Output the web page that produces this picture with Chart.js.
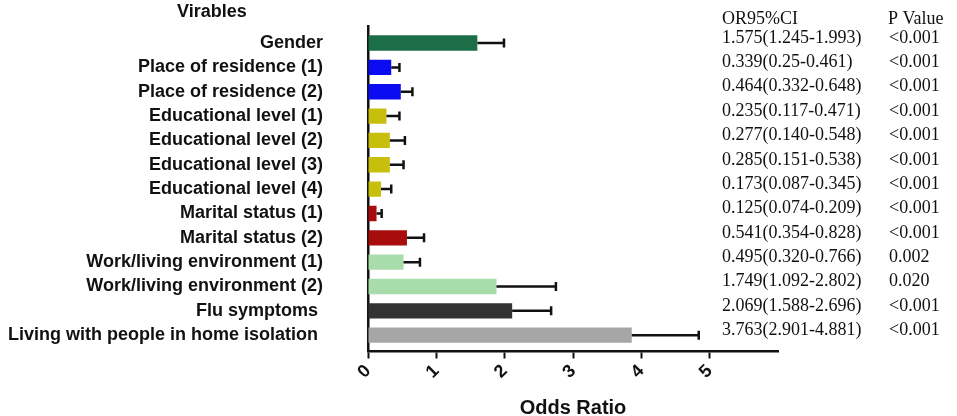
<!DOCTYPE html>
<html>
<head>
<meta charset="utf-8">
<script src="https://cdn.jsdelivr.net/npm/chart.js@4.4.1/dist/chart.umd.min.js"></script>
<style>
  html, body { margin: 0; padding: 0; background: #ffffff; }
  #wrap { width: 957px; height: 416px; position: relative; }
</style>
</head>
<body>
<div id="wrap"><canvas id="c" width="957" height="416"></canvas></div>
<script>
const categories = [
  'Gender',
  'Place of residence (1)',
  'Place of residence (2)',
  'Educational level (1)',
  'Educational level (2)',
  'Educational level (3)',
  'Educational level (4)',
  'Marital status (1)',
  'Marital status (2)',
  'Work/living environment (1)',
  'Work/living environment (2)',
  'Flu symptoms ',
  'Living with people in home isolation '
];
// bar lengths and upper error-bar ends
const oddsRatio = [1.60, 0.34, 0.48, 0.27, 0.32, 0.32, 0.19, 0.125, 0.57, 0.52, 1.88, 2.11, 3.86];
const upperCI   = [1.99, 0.46, 0.65, 0.46, 0.54, 0.52, 0.34, 0.20, 0.82, 0.76, 2.75, 2.68, 4.84];
const ciLabels = [
  '1.575(1.245-1.993)', '0.339(0.25-0.461)', '0.464(0.332-0.648)', '0.235(0.117-0.471)',
  '0.277(0.140-0.548)', '0.285(0.151-0.538)', '0.173(0.087-0.345)', '0.125(0.074-0.209)',
  '0.541(0.354-0.828)', '0.495(0.320-0.766)', '1.749(1.092-2.802)', '2.069(1.588-2.696)',
  '3.763(2.901-4.881)'
];
const pValues = ['<0.001', '<0.001', '<0.001', '<0.001', '<0.001', '<0.001', '<0.001',
  '<0.001', '<0.001', '0.002', '0.020', '<0.001', '<0.001'];
const xTicks = [0, 1, 2, 3, 4, 5];
const barColors = ['#1c6e48', '#0c0cf2', '#0c0cf2', '#c8bf0c', '#c8bf0c', '#c8bf0c', '#c8bf0c',
  '#a80c0c', '#a80c0c', '#a8dcaa', '#a8dcaa', '#333333', '#a6a6a6'];

const errorBars = {
  id: 'errorBars',
  afterDatasetsDraw(chart) {
    const ctx = chart.ctx;
    const xs = chart.scales.x, ys = chart.scales.y;
    ctx.save();
    ctx.strokeStyle = '#111111';
    ctx.lineWidth = 2.5;
    oddsRatio.forEach((v, i) => {
      const x1 = xs.getPixelForValue(v);
      const x2 = xs.getPixelForValue(upperCI[i]);
      const y = ys.getPixelForValue(i);
      ctx.beginPath();
      ctx.moveTo(x1, y); ctx.lineTo(x2, y);
      ctx.moveTo(x2, y - 4.5); ctx.lineTo(x2, y + 4.5);
      ctx.stroke();
    });
    ctx.restore();
  }
};

const sideText = {
  id: 'sideText',
  afterDraw(chart) {
    const ctx = chart.ctx;
    const ys = chart.scales.y;
    ctx.save();
    ctx.fillStyle = '#111111';
    ctx.textBaseline = 'middle';
    ctx.textAlign = 'left';
    ctx.font = 'bold 18px "Liberation Sans", Arial, sans-serif';
    ctx.fillText('Virables', 177, 12);
    ctx.font = '18px "Liberation Serif", "Times New Roman", serif';
    ctx.fillText('OR95%CI', 722, 19);
    ctx.fillText('P Value', 888, 19);
    ciLabels.forEach((t, i) => {
      const y = ys.getPixelForValue(i) - 5;
      ctx.fillText(t, 722, y);
      ctx.fillText(pValues[i], 889, y);
    });
    ctx.restore();
  }
};

new Chart(document.getElementById('c'), {
  type: 'bar',
  data: {
    datasets: [{
      data: oddsRatio.map((v, i) => ({ x: v, y: i })),
      backgroundColor: barColors,
      borderWidth: 0,
      barPercentage: 0.63,
      categoryPercentage: 1.0
    }]
  },
  options: {
    indexAxis: 'y',
    responsive: false,
    animation: false,
    devicePixelRatio: 1,
    layout: { padding: { top: 26, right: 179, bottom: 0, left: 0 } },
    plugins: { legend: { display: false }, tooltip: { enabled: false } },
    scales: {
      x: {
        type: 'linear',
        min: 0,
        max: 6,
        afterBuildTicks(scale) {
          scale.ticks = xTicks.map(v => ({ value: v }));
        },
        afterFit(scale) { scale.height = 64.5; },
        border: { display: true, color: '#111111', width: 2.5 },
        grid: {
          display: true,
          drawOnChartArea: false,
          drawTicks: true,
          tickLength: 7,
          tickColor: '#111111',
          tickWidth: 2
        },
        ticks: {
          color: '#111111',
          font: { family: '"Liberation Sans", Arial, sans-serif', size: 18, weight: 'bold' },
          minRotation: 45,
          maxRotation: 45,
          padding: 2,
          callback: (v) => String(v)
        },
        title: {
          display: true,
          text: 'Odds Ratio',
          color: '#111111',
          font: { family: '"Liberation Sans", Arial, sans-serif', size: 20, weight: 'bold', lineHeight: 1 },
          padding: { top: 0, bottom: -2 }
        }
      },
      y: {
        type: 'linear',
        reverse: true,
        min: -0.7,
        max: 12.67,
        offset: false,
        afterBuildTicks(scale) {
          scale.ticks = categories.map((c, i) => ({ value: i }));
        },
        afterFit(scale) { scale.width = 368; },
        border: { display: true, color: '#111111', width: 2.5 },
        grid: {
          display: true,
          drawOnChartArea: false,
          drawTicks: true,
          tickLength: 45,
          tickColor: 'rgba(0,0,0,0)'
        },
        ticks: {
          color: '#111111',
          font: { family: '"Liberation Sans", Arial, sans-serif', size: 18, weight: 'bold' },
          padding: 0,
          autoSkip: false,
          callback: (v) => categories[v]
        }
      }
    }
  },
  plugins: [errorBars, sideText]
});
</script>
</body>
</html>
